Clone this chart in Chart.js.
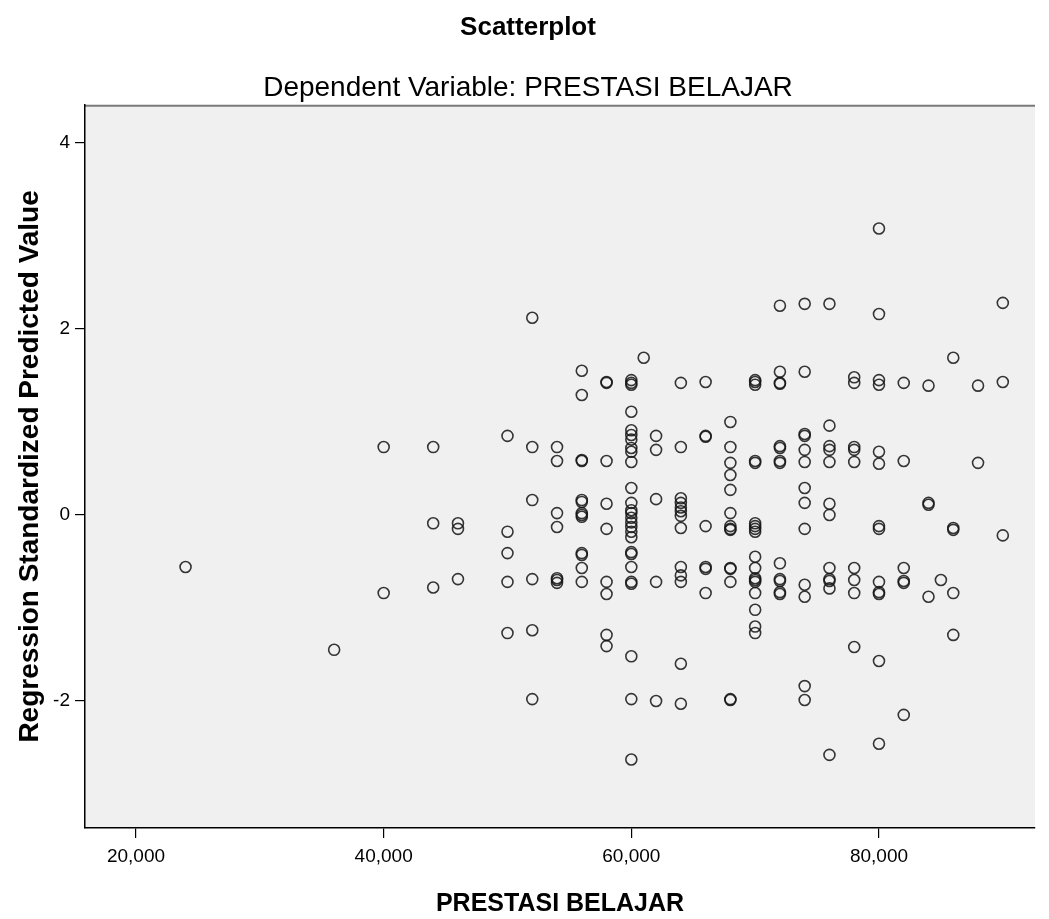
<!DOCTYPE html>
<html>
<head>
<meta charset="utf-8">
<script src="https://cdn.jsdelivr.net/npm/chart.js@4.4.1/dist/chart.umd.min.js"></script>
<style>
  html, body { margin: 0; padding: 0; background: #ffffff; }
  #wrap { width: 1049px; height: 919px; }
</style>
</head>
<body>
<div id="wrap"><canvas id="scatter" width="1049" height="919"></canvas></div>
<script>
// PRESTASI BELAJAR scores (x) and regression standardized predicted values (y)
const scores = [
  24, 36, 40, 40, 44, 44, 44, 46, 46, 46,
  50, 50, 50, 50, 50,
  52, 52, 52, 52, 52, 52,
  54, 54, 54, 54, 54, 54, 54,
  56, 56, 56, 56, 56, 56, 56, 56, 56, 56, 56, 56, 56,
  58, 58, 58, 58, 58, 58, 58, 58, 58,
  60, 60, 60, 60, 60, 60, 60, 60, 60, 60, 60, 60, 60, 60, 60, 60, 60, 60, 60, 60, 60, 60, 60, 60, 60, 60, 60,
  61,
  62, 62, 62, 62, 62,
  64, 64, 64, 64, 64, 64, 64, 64, 64, 64, 64, 64, 64,
  66, 66, 66, 66, 66, 66, 66,
  68, 68, 68, 68, 68, 68, 68, 68, 68, 68, 68, 68, 68, 68,
  70, 70, 70, 70, 70, 70, 70, 70, 70, 70, 70, 70, 70, 70, 70, 70, 70, 70,
  72, 72, 72, 72, 72, 72, 72, 72, 72, 72, 72, 72, 72,
  74, 74, 74, 74, 74, 74, 74, 74, 74, 74, 74, 74, 74,
  76, 76, 76, 76, 76, 76, 76, 76, 76, 76, 76, 76,
  78, 78, 78, 78, 78, 78, 78, 78, 78,
  80, 80, 80, 80, 80, 80, 80, 80, 80, 80, 80, 80, 80,
  82, 82, 82, 82, 82, 82,
  84, 84, 84, 84, 85,
  86, 86, 86, 86, 86,
  88, 88, 90, 90, 90
];
const predicted = [
  -0.56, -1.45, 0.73, -0.84, 0.73, -0.09, -0.78, -0.09, -0.15, -0.69,
  0.85, -0.18, -0.41, -0.72, -1.27,
  2.12, 0.73, 0.16, -0.69, -1.24, -1.98,
  0.73, 0.58, 0.02, -0.13, -0.68, -0.70, -0.73,
  1.55, 1.29, 0.59, 0.58, 0.16, 0.14, 0.02, 0.00, -0.02, -0.41, -0.43, -0.57, -0.72,
  1.43, 1.42, 0.58, 0.12, -0.15, -0.72, -0.85, -1.29, -1.41,
  1.45, 1.42, 1.40, 1.11, 0.91, 0.86, 0.81, 0.72, 0.68, 0.57, 0.29, 0.13, 0.05, 0.02, -0.03, -0.08, -0.13, -0.18, -0.24, -0.40, -0.42, -0.56, -0.72, -0.74, -1.52, -1.98, -2.63,
  1.69,
  0.85, 0.70, 0.17, -0.72, -2.00,
  1.42, 0.73, 0.18, 0.13, 0.08, 0.04, -0.01, -0.14, -0.56, -0.65, -0.72, -1.60, -2.03,
  1.43, 0.85, 0.84, -0.12, -0.56, -0.58, -0.84,
  1.00, 0.73, 0.56, 0.43, 0.27, 0.02, -0.12, -0.15, -0.16, -0.57, -0.58, -0.72, -1.98, -1.99,
  1.45, 1.43, 1.40, 0.58, 0.56, -0.09, -0.12, -0.15, -0.18, -0.45, -0.57, -0.68, -0.70, -0.72, -0.84, -1.02, -1.20, -1.27,
  2.25, 1.54, 1.42, 1.41, 0.74, 0.72, 0.58, 0.56, -0.52, -0.69, -0.71, -0.83, -0.85,
  2.27, 1.54, 0.87, 0.85, 0.70, 0.57, 0.29, 0.13, -0.15, -0.75, -0.88, -1.84, -1.99,
  2.27, 0.96, 0.74, 0.70, 0.57, 0.12, 0.00, -0.57, -0.69, -0.71, -0.79, -2.58,
  1.48, 1.42, 0.73, 0.70, 0.57, -0.57, -0.70, -0.84, -1.42,
  3.08, 2.16, 1.45, 1.40, 0.68, 0.55, -0.12, -0.15, -0.72, -0.83, -0.85, -1.57, -2.46,
  1.42, 0.58, -0.57, -0.71, -0.73, -2.15,
  1.39, 0.13, 0.11, -0.88, -0.70,
  1.69, -0.14, -0.16, -0.84, -1.29,
  1.39, 0.56, 2.28, 1.43, -0.22
];

// Axis ticks shown on the chart
const xTicks = [20, 40, 60, 80];
const yTicks = [-2, 0, 2, 4];

const points = scores.map((s, i) => ({ x: s, y: predicted[i] }));

// Grey plot background and top frame line, like the SPSS output
const plotFrame = {
  id: 'plotFrame',
  beforeDraw(chart) {
    const { ctx, chartArea: a } = chart;
    ctx.save();
    ctx.fillStyle = '#f0f0f0';
    ctx.fillRect(a.left, a.top, a.right - a.left, a.bottom - a.top);
    ctx.strokeStyle = '#7a7a7a';
    ctx.lineWidth = 2;
    ctx.beginPath();
    ctx.moveTo(a.left, a.top + 1);
    ctx.lineTo(a.right, a.top + 1);
    ctx.stroke();
    ctx.restore();
  }
};

const fontFamily = "'Liberation Sans', Arial, sans-serif";

new Chart(document.getElementById('scatter'), {
  type: 'scatter',
  data: {
    datasets: [{
      label: 'Regression Standardized Predicted Value',
      data: points,
      pointStyle: 'circle',
      pointRadius: 5.5,
      pointBorderWidth: 1.6,
      pointBorderColor: 'rgba(20,20,20,0.85)',
      pointBackgroundColor: 'rgba(0,0,0,0)'
    }]
  },
  plugins: [plotFrame],
  options: {
    responsive: false,
    animation: false,
    layout: { padding: { left: 21, right: 14, top: 0, bottom: 0 } },
    plugins: {
      legend: { display: false },
      tooltip: { enabled: false },
      title: {
        display: true,
        text: 'Scatterplot',
        color: '#000',
        font: { family: fontFamily, size: 26, weight: 'bold' },
        padding: { top: 12, bottom: 14 }
      },
      subtitle: {
        display: true,
        text: 'Dependent Variable: PRESTASI BELAJAR',
        color: '#000',
        font: { family: fontFamily, size: 28, weight: 'normal' },
        padding: { top: 14, bottom: 0 }
      }
    },
    scales: {
      x: {
        type: 'linear',
        min: 15.88,
        max: 92.6,
        afterBuildTicks: (s) => { s.ticks = xTicks.map(v => ({ value: v })); },
        afterFit: (s) => { s.height = 91; },
        border: { display: true, color: '#000', width: 1.5 },
        grid: { display: true, drawOnChartArea: false, drawTicks: true, tickLength: 10, color: '#000', lineWidth: 1.2 },
        ticks: {
          color: '#000',
          padding: 7,
          maxRotation: 0,
          font: { family: fontFamily, size: 19 },
          callback: (v) => v.toFixed(3).replace('.', ',')
        },
        title: {
          display: true,
          text: 'PRESTASI BELAJAR',
          color: '#000',
          font: { family: fontFamily, size: 25, weight: 'bold' },
          padding: { top: 0, bottom: 0 }
        }
      },
      y: {
        type: 'linear',
        min: -3.366,
        max: 4.41,
        afterBuildTicks: (s) => { s.ticks = yTicks.map(v => ({ value: v })); },
        afterFit: (s) => { s.width = 64; },
        border: { display: true, color: '#000', width: 1.5 },
        grid: { display: true, drawOnChartArea: false, drawTicks: true, tickLength: 10, color: '#000', lineWidth: 1.2 },
        ticks: {
          color: '#000',
          padding: 5,
          font: { family: fontFamily, size: 19 },
          callback: (v) => String(v)
        },
        title: {
          display: true,
          text: 'Regression Standardized Predicted Value',
          color: '#000',
          font: { family: fontFamily, size: 28, weight: 'bold' },
          padding: { top: -8, bottom: 0 }
        }
      }
    }
  }
});
</script>
</body>
</html>
